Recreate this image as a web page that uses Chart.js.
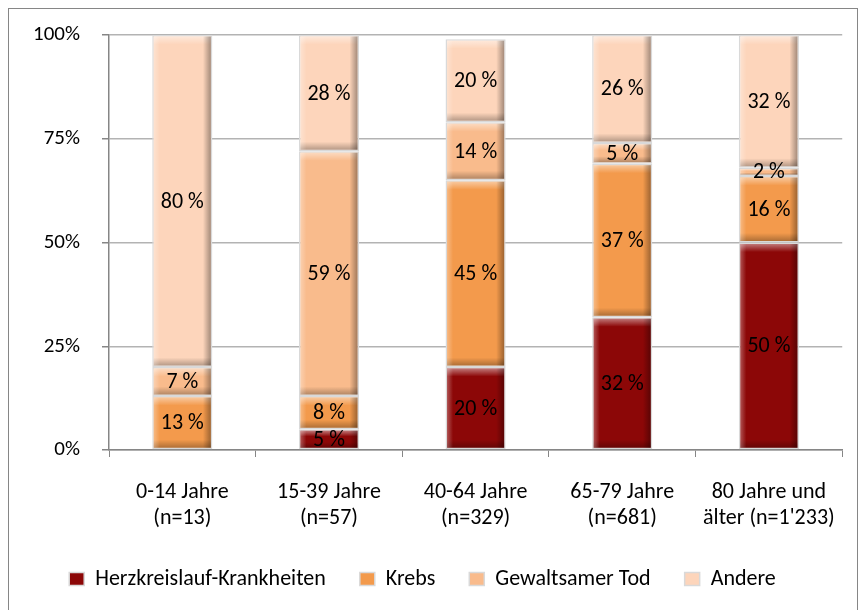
<!DOCTYPE html>
<html>
<head>
<meta charset="utf-8">
<script src="https://cdn.jsdelivr.net/npm/chart.js@4.4.0/dist/chart.umd.min.js"></script>
<style>
  html, body { margin: 0; padding: 0; background: #fff; }
  #wrap { width: 858px; height: 610px; position: relative; }
</style>
</head>
<body>
<div id="wrap"><canvas id="chart" width="858" height="610"></canvas></div>
<script>
// categories and series (percent of deaths per age group)
const categories = [
  ['0-14 Jahre', '(n=13)'],
  ['15-39 Jahre', '(n=57)'],
  ['40-64 Jahre', '(n=329)'],
  ['65-79 Jahre', '(n=681)'],
  ['80 Jahre und', 'älter (n=1\'233)']
];
const herzkreislauf = [0, 5, 20, 32, 50];
const krebs = [13, 8, 45, 37, 16];
const gewaltsamerTod = [7, 59, 14, 5, 2];
const andere = [80, 28, 20, 26, 32];
const yTicks = [0, 25, 50, 75, 100];

const FONT = "Carlito, Lato, 'Open Sans', sans-serif";

// frame around the whole chart
const framePlugin = {
  id: 'frame',
  beforeDraw(chart) {
    const ctx = chart.ctx;
    ctx.save();
    ctx.strokeStyle = '#868686';
    ctx.lineWidth = 1;
    ctx.strokeRect(8.5, 8.5, chart.width - 9, chart.height - 5);
    ctx.restore();
  }
};

// bevel look + value labels on each segment
const barDecor = {
  id: 'barDecor',
  afterDatasetsDraw(chart) {
    const ctx = chart.ctx;
    ctx.save();
    chart.data.datasets.forEach((ds, di) => {
      const meta = chart.getDatasetMeta(di);
      meta.data.forEach((bar, i) => {
        const v = ds.data[i];
        if (!v) return;
        const left = bar.x - bar.width / 2 + 1.5;
        const right = bar.x + bar.width / 2 - 1.5;
        const top = Math.min(bar.y, bar.base) + 1.5;
        const bottom = Math.max(bar.y, bar.base) - 1.5;
        const h = bottom - top;
        const b = Math.min(8, h / 3);
        // top highlight
        let g = ctx.createLinearGradient(0, top, 0, top + b);
        g.addColorStop(0, 'rgba(255,255,255,0.45)');
        g.addColorStop(1, 'rgba(255,255,255,0)');
        ctx.fillStyle = g;
        ctx.fillRect(left, top, right - left, b);
        // right shadow
        g = ctx.createLinearGradient(right - 8, 0, right, 0);
        g.addColorStop(0, 'rgba(0,0,0,0)');
        g.addColorStop(1, 'rgba(0,0,0,0.35)');
        ctx.fillStyle = g;
        ctx.fillRect(right - 8, top, 8, h);
        // bottom shadow
        g = ctx.createLinearGradient(0, bottom - b, 0, bottom);
        g.addColorStop(0, 'rgba(0,0,0,0)');
        g.addColorStop(1, 'rgba(0,0,0,0.28)');
        ctx.fillStyle = g;
        ctx.fillRect(left, bottom - b, right - left, b);
        // left highlight
        g = ctx.createLinearGradient(left, 0, left + 6, 0);
        g.addColorStop(0, 'rgba(255,255,255,0.3)');
        g.addColorStop(1, 'rgba(255,255,255,0)');
        ctx.fillStyle = g;
        ctx.fillRect(left, top, 6, h);
      });
    });
    ctx.fillStyle = '#000';
    ctx.font = '22px ' + FONT;
    ctx.textAlign = 'center';
    ctx.textBaseline = 'middle';
    chart.data.datasets.forEach((ds, di) => {
      const meta = chart.getDatasetMeta(di);
      meta.data.forEach((bar, i) => {
        const v = ds.data[i];
        if (!v) return;
        ctx.fillText(v + ' %', bar.x, (bar.y + bar.base) / 2 + 1);
      });
    });
    ctx.restore();
  }
};

function series(label, data, color) {
  return {
    label: label,
    data: data,
    backgroundColor: color,
    borderColor: '#d9d9d9',
    borderWidth: 1.5,
    borderSkipped: false,
    barPercentage: 0.41,
    categoryPercentage: 1
  };
}

new Chart(document.getElementById('chart'), {
  type: 'bar',
  data: {
    labels: categories,
    datasets: [
      series('Herzkreislauf-Krankheiten', herzkreislauf, '#8c0707'),
      series('Krebs', krebs, '#f39a4c'),
      series('Gewaltsamer Tod', gewaltsamerTod, '#f9bb8c'),
      series('Andere', andere, '#fdd5bb')
    ]
  },
  options: {
    responsive: false,
    animation: false,
    layout: { padding: { left: 0, right: 13, top: 35, bottom: 10 } },
    plugins: {
      tooltip: { enabled: false },
      legend: {
        position: 'bottom',
        labels: {
          color: '#000',
          font: { family: FONT, size: 22 },
          boxWidth: 15,
          boxHeight: 13,
          padding: 34
        }
      }
    },
    scales: {
      x: {
        stacked: true,
        grid: {
          display: true,
          drawOnChartArea: false,
          drawTicks: true,
          tickLength: 7,
          color: '#868686'
        },
        border: { color: '#868686', width: 1.5 },
        ticks: {
          color: '#000',
          font: { family: FONT, size: 22 },
          padding: 22,
          maxRotation: 0
        },
        afterFit(s) { s.height = 84; }
      },
      y: {
        stacked: true,
        min: 0,
        max: 100,
        afterBuildTicks(s) { s.ticks = yTicks.map(v => ({ value: v })); },
        grid: {
          color: '#b3b3b3',
          lineWidth: 1.5,
          tickLength: 7,
          tickColor: '#868686'
        },
        border: { color: '#868686', width: 1.5 },
        ticks: {
          color: '#000',
          font: { family: FONT, size: 21 },
          padding: 22,
          callback: v => v + '%'
        },
        afterFit(s) { s.width = 109; }
      }
    }
  },
  plugins: [framePlugin, barDecor]
});
</script>
</body>
</html>
